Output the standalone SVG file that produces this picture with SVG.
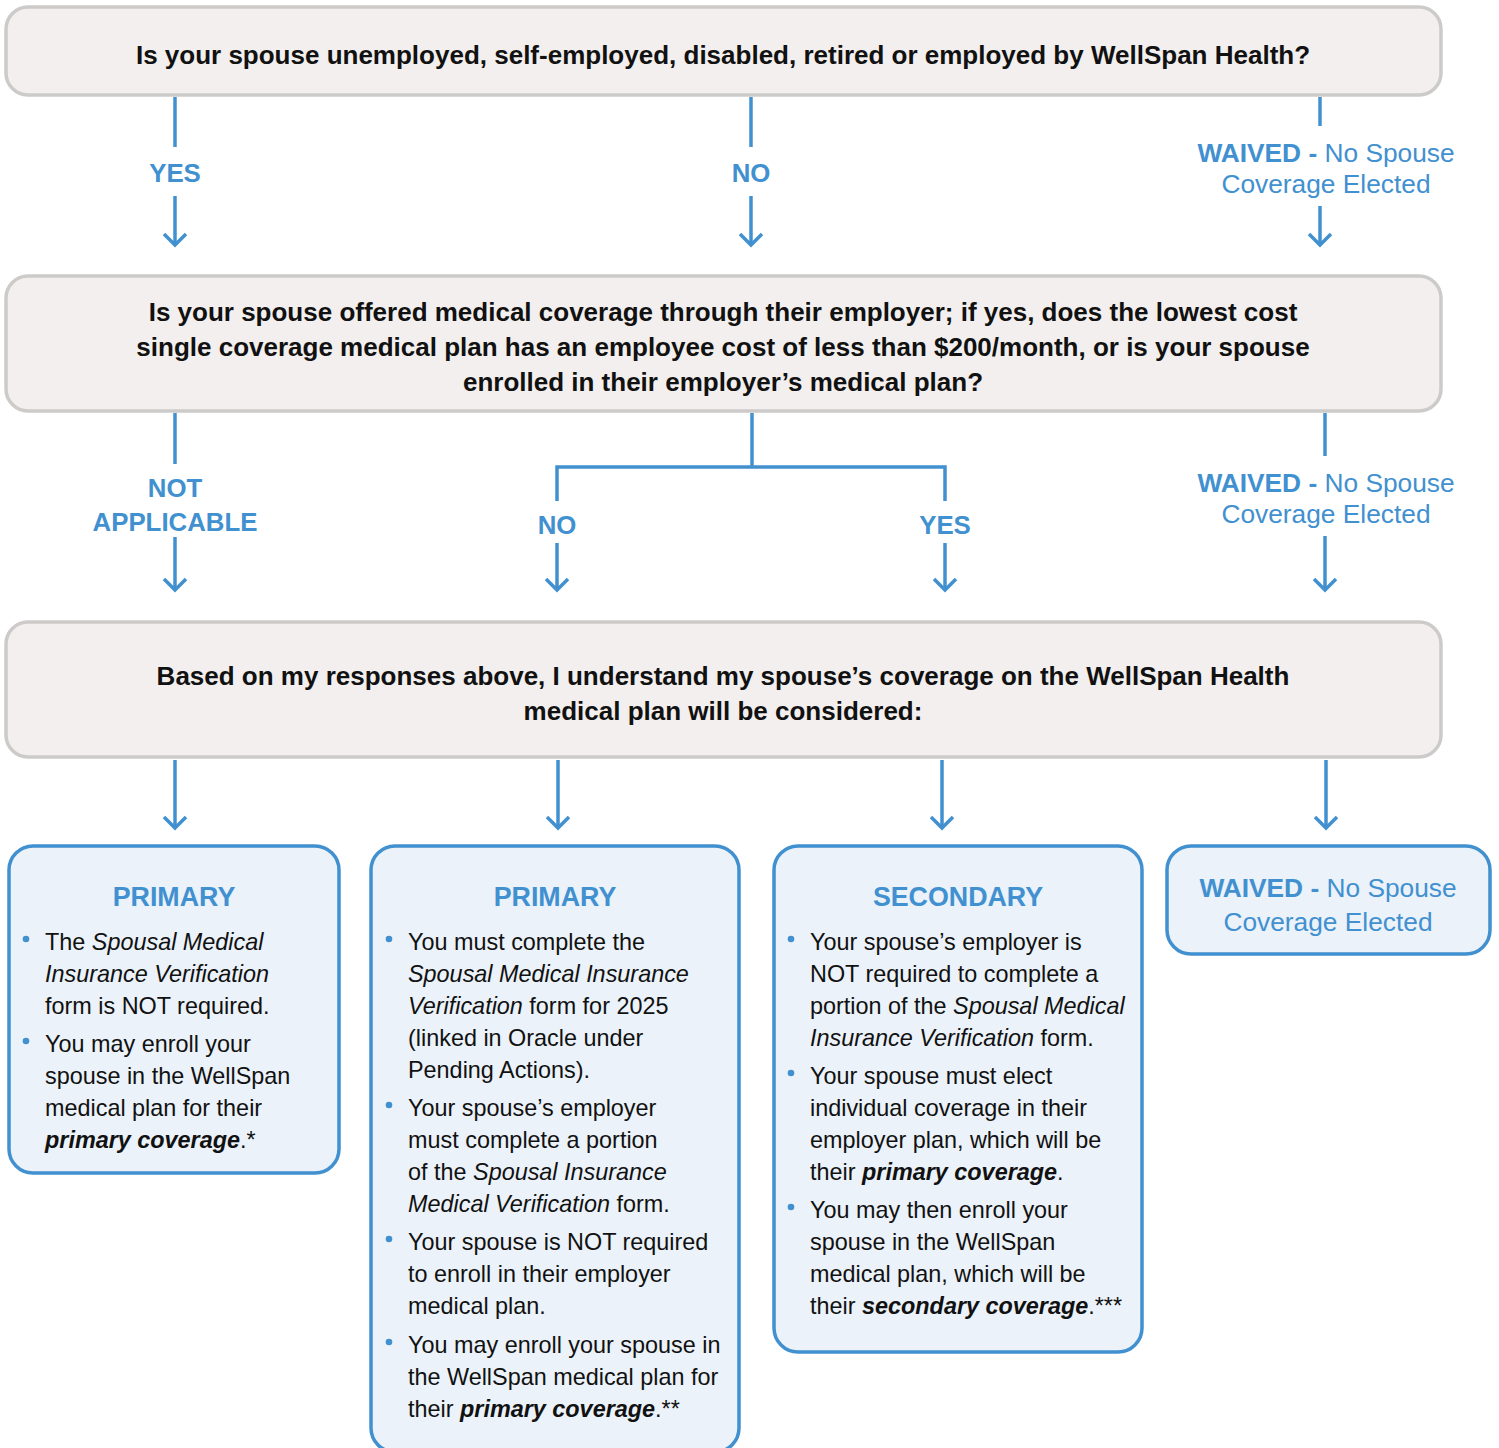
<svg xmlns="http://www.w3.org/2000/svg" width="1499" height="1448" viewBox="0 0 1499 1448">
<style>
.q{fill:#f2efee;stroke:#cdcbca;stroke-width:3.5}
.r{fill:#ebf2f9;stroke:#4190d0;stroke-width:3.5}
.c{fill:none;stroke:#4190d0;stroke-width:3.5}
.qt{font-family:"Liberation Sans",Arial,sans-serif;font-weight:bold;font-size:26px;fill:#111;text-anchor:middle}
.lb{font-family:"Liberation Sans",Arial,sans-serif;font-weight:bold;font-size:25.8px;fill:#4190d0;text-anchor:middle}
.wv{font-family:"Liberation Sans",Arial,sans-serif;font-size:26.3px;fill:#4190d0;text-anchor:middle}
.wv .b{font-weight:bold}
.h{font-family:"Liberation Sans",Arial,sans-serif;font-weight:bold;font-size:26.8px;fill:#4190d0;text-anchor:middle}
.t{font-family:"Liberation Sans",Arial,sans-serif;font-size:23.4px;fill:#111}
.i{font-style:italic}
.bi{font-style:italic;font-weight:bold}
.d{fill:#4190d0}
</style>
<defs>
<marker id="ah" viewBox="-14 -14 28 28" markerWidth="28" markerHeight="28" markerUnits="userSpaceOnUse" orient="auto" refX="0" refY="0">
<path d="M-11,-11 L0,0 L-11,11" fill="none" stroke="#4190d0" stroke-width="3.5"/>
</marker>
</defs>

<g id="connectors">
<line class="c" x1="175" y1="97" x2="175" y2="147"/>
<line class="c" x1="175" y1="196" x2="175" y2="245" marker-end="url(#ah)"/>
<line class="c" x1="751" y1="97" x2="751" y2="147"/>
<line class="c" x1="751" y1="196" x2="751" y2="245" marker-end="url(#ah)"/>
<line class="c" x1="1320" y1="97" x2="1320" y2="126"/>
<line class="c" x1="1320" y1="206" x2="1320" y2="245" marker-end="url(#ah)"/>

<line class="c" x1="175" y1="413" x2="175" y2="464"/>
<line class="c" x1="175" y1="537" x2="175" y2="590" marker-end="url(#ah)"/>
<line class="c" x1="752" y1="413" x2="752" y2="467"/>
<polyline class="c" points="557,501 557,467 945,467 945,501"/>
<line class="c" x1="557" y1="543" x2="557" y2="590" marker-end="url(#ah)"/>
<line class="c" x1="945" y1="543" x2="945" y2="590" marker-end="url(#ah)"/>
<line class="c" x1="1325" y1="413" x2="1325" y2="456"/>
<line class="c" x1="1325" y1="536" x2="1325" y2="590" marker-end="url(#ah)"/>

<line class="c" x1="175" y1="760" x2="175" y2="828" marker-end="url(#ah)"/>
<line class="c" x1="558" y1="760" x2="558" y2="828" marker-end="url(#ah)"/>
<line class="c" x1="942" y1="760" x2="942" y2="828" marker-end="url(#ah)"/>
<line class="c" x1="1326" y1="760" x2="1326" y2="828" marker-end="url(#ah)"/>

<text class="lb" x="175" y="182">YES</text>
<text class="lb" x="751" y="182">NO</text>
<text class="wv" x="1326" y="162"><tspan class="b">WAIVED - </tspan>No Spouse</text>
<text class="wv" x="1326" y="193">Coverage Elected</text>
<text class="lb" x="175" y="497">NOT</text>
<text class="lb" x="175" y="531">APPLICABLE</text>
<text class="lb" x="557" y="534">NO</text>
<text class="lb" x="945" y="534">YES</text>
<text class="wv" x="1326" y="492"><tspan class="b">WAIVED - </tspan>No Spouse</text>
<text class="wv" x="1326" y="523">Coverage Elected</text>
</g>

<g id="q1">
<rect class="q" x="6" y="7" width="1435" height="88" rx="22"/>
<text class="qt" x="723" y="64">Is your spouse unemployed, self-employed, disabled, retired or employed by WellSpan Health?</text>
</g>

<g id="q2">
<rect class="q" x="6" y="276" width="1435" height="135" rx="22"/>
<text class="qt" x="723" y="321">Is your spouse offered medical coverage through their employer; if yes, does the lowest cost</text>
<text class="qt" x="723" y="356">single coverage medical plan has an employee cost of less than $200/month, or is your spouse</text>
<text class="qt" x="723" y="391">enrolled in their employer’s medical plan?</text>
</g>

<g id="q3">
<rect class="q" x="6" y="622" width="1435" height="135" rx="22"/>
<text class="qt" x="723" y="685">Based on my responses above, I understand my spouse’s coverage on the WellSpan Health</text>
<text class="qt" x="723" y="720">medical plan will be considered:</text>
</g>

<g id="r1">
<rect class="r" x="9" y="846" width="330" height="327" rx="24"/>
<text class="h" x="174" y="906">PRIMARY</text>
<circle class="d" cx="26" cy="939" r="3.3"/>
<text class="t" x="45" y="950">The <tspan class="i">Spousal Medical</tspan></text>
<text class="t" x="45" y="982"><tspan class="i">Insurance Verification</tspan></text>
<text class="t" x="45" y="1014">form is NOT required.</text>
<circle class="d" cx="26" cy="1041" r="3.3"/>
<text class="t" x="45" y="1052">You may enroll your</text>
<text class="t" x="45" y="1084">spouse in the WellSpan</text>
<text class="t" x="45" y="1116">medical plan for their</text>
<text class="t" x="45" y="1148"><tspan class="bi">primary coverage</tspan>.*</text>
</g>

<g id="r2">
<rect class="r" x="371" y="846" width="368" height="606" rx="24"/>
<text class="h" x="555" y="906">PRIMARY</text>
<circle class="d" cx="389" cy="939" r="3.3"/>
<text class="t" x="408" y="950">You must complete the</text>
<text class="t" x="408" y="982"><tspan class="i">Spousal Medical Insurance</tspan></text>
<text class="t" x="408" y="1014"><tspan class="i">Verification</tspan> form for 2025</text>
<text class="t" x="408" y="1046">(linked in Oracle under</text>
<text class="t" x="408" y="1078">Pending Actions).</text>
<circle class="d" cx="389" cy="1105" r="3.3"/>
<text class="t" x="408" y="1116">Your spouse’s employer</text>
<text class="t" x="408" y="1148">must complete a portion</text>
<text class="t" x="408" y="1180">of the <tspan class="i">Spousal Insurance</tspan></text>
<text class="t" x="408" y="1212"><tspan class="i">Medical Verification</tspan> form.</text>
<circle class="d" cx="389" cy="1239" r="3.3"/>
<text class="t" x="408" y="1250">Your spouse is NOT required</text>
<text class="t" x="408" y="1282">to enroll in their employer</text>
<text class="t" x="408" y="1314">medical plan.</text>
<circle class="d" cx="389" cy="1342" r="3.3"/>
<text class="t" x="408" y="1353">You may enroll your spouse in</text>
<text class="t" x="408" y="1385">the WellSpan medical plan for</text>
<text class="t" x="408" y="1417">their <tspan class="bi">primary coverage</tspan>.**</text>
</g>

<g id="r3">
<rect class="r" x="774" y="846" width="368" height="506" rx="24"/>
<text class="h" x="958" y="906">SECONDARY</text>
<circle class="d" cx="791" cy="939" r="3.3"/>
<text class="t" x="810" y="950">Your spouse’s employer is</text>
<text class="t" x="810" y="982">NOT required to complete a</text>
<text class="t" x="810" y="1014">portion of the <tspan class="i">Spousal Medical</tspan></text>
<text class="t" x="810" y="1046"><tspan class="i">Insurance Verification</tspan> form.</text>
<circle class="d" cx="791" cy="1073" r="3.3"/>
<text class="t" x="810" y="1084">Your spouse must elect</text>
<text class="t" x="810" y="1116">individual coverage in their</text>
<text class="t" x="810" y="1148">employer plan, which will be</text>
<text class="t" x="810" y="1180">their <tspan class="bi">primary coverage</tspan>.</text>
<circle class="d" cx="791" cy="1207" r="3.3"/>
<text class="t" x="810" y="1218">You may then enroll your</text>
<text class="t" x="810" y="1250">spouse in the WellSpan</text>
<text class="t" x="810" y="1282">medical plan, which will be</text>
<text class="t" x="810" y="1314">their <tspan class="bi">secondary coverage</tspan>.***</text>
</g>

<g id="r4">
<rect class="r" x="1167" y="846" width="323" height="108" rx="24"/>
<text class="wv" x="1328" y="897"><tspan class="b">WAIVED - </tspan>No Spouse</text>
<text class="wv" x="1328" y="931">Coverage Elected</text>
</g>
</svg>
